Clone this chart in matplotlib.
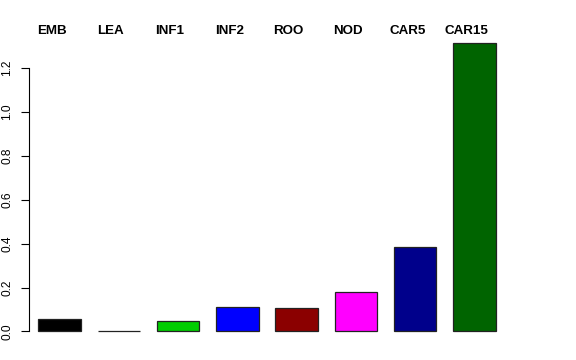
import matplotlib
matplotlib.use("Agg")
import matplotlib.pyplot as plt
import matplotlib.transforms as mtransforms
import numpy as np

categories = ["EMB", "LEA", "INF1", "INF2", "ROO", "NOD", "CAR5", "CAR15"]
values = [0.056, 0.003, 0.046, 0.110, 0.106, 0.181, 0.386, 1.316]
colors = ["#000000", "#FF0000", "#00CD00", "#0000FF", "#8B0000", "#FF00FF", "#00008B", "#006400"]
yticks = [0.0, 0.2, 0.4, 0.6, 0.8, 1.0, 1.2]
ytick_labels = ["0.0", "0.2", "0.4", "0.6", "0.8", "1.0", "1.2"]

plt.rcParams['font.family'] = ['Liberation Sans', 'DejaVu Sans']

W, H = 576, 360
fig = plt.figure(figsize=(W / 100, H / 100), dpi=100)
left_px, right_px, top_px, bottom_px = 29, 514, 31.0, 343.0
ax = fig.add_axes([left_px / W, 1 - bottom_px / H, (right_px - left_px) / W, (bottom_px - top_px) / H])

space = 0.4
x = np.arange(len(values)) * (1 + space) + space + 0.5
ax.bar(x, values, width=1.0, color=colors, edgecolor="#222222", linewidth=0.9)

ymax = max(values)
ax.set_xlim(0.18, 11.632)
ax.set_ylim(-0.04 * ymax, 1.04 * ymax)
for s in ["top", "right", "bottom"]:
    ax.spines[s].set_visible(False)
ax.spines["left"].set_bounds(0, 1.2)
ax.spines["left"].set_linewidth(0.8)
ax.set_xticks([])
ax.set_yticks(yticks)
ax.set_yticklabels(ytick_labels, rotation=90, va="center", fontsize=8.6)
ax.tick_params(axis="y", length=5.5, width=0.8, pad=6)

blend = mtransforms.blended_transform_factory(ax.transData, fig.transFigure)
for lab, xc in zip(categories, x):
    ax.text(xc - 0.19, 1 - 33.5 / H, lab, transform=blend,
            ha="center", va="baseline", fontsize=9.6, fontweight="bold")

fig.savefig("out.png", dpi=100)
